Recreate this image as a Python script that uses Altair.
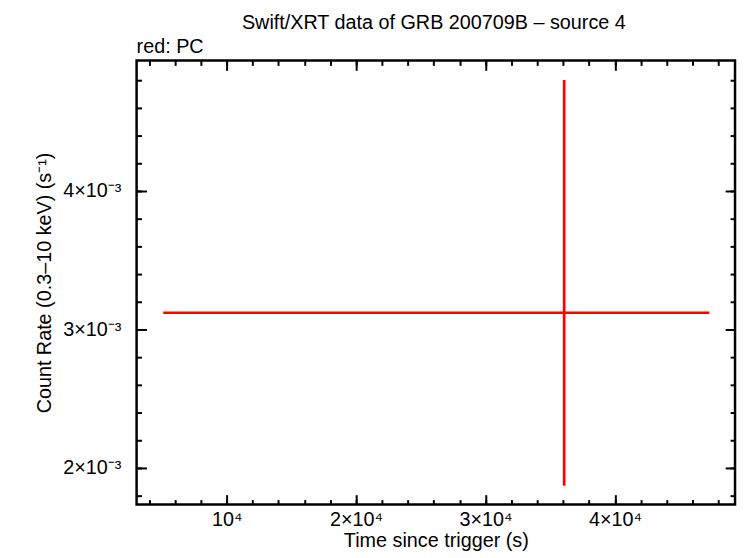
import altair as alt
import pandas as pd

# Data
t_mid = [36080.0]
t_lo = [5100.0]
t_hi = [47300.0]
rate = [0.003121]
rate_lo = [0.001871]
rate_hi = [0.004802]
label_text = ["red: PC"]
title_text = ["Swift/XRT data of GRB 200709B – source 4"]

x_major = [10000, 20000, 30000, 40000]
x_minor = [4000, 6000, 8000, 10000, 12000, 14000, 16000, 18000, 20000, 22000,
           24000, 26000, 28000, 30000, 32000, 34000, 36000, 38000, 40000, 42000,
           44000, 46000, 48000]
y_major = [0.002, 0.003, 0.004]
y_minor = [0.0018, 0.0020, 0.0022, 0.0024, 0.0026, 0.0028, 0.0030, 0.0032,
           0.0034, 0.0036, 0.0038, 0.0040, 0.0042, 0.0044, 0.0046, 0.0048]

x_domain = [3040, 49280]
y_domain = [0.001736, 0.004943]

df = pd.DataFrame({"t": t_mid, "t_lo": t_lo, "t_hi": t_hi,
                   "r": rate, "r_lo": rate_lo, "r_hi": rate_hi})
lab = pd.DataFrame({"txt": label_text})
ttl = pd.DataFrame({"txt": title_text})

FONT = "Liberation Sans"
FS = 20
RED = "#ff0000"
W, H = 605, 449
xs = alt.Scale(domain=x_domain, nice=False, zero=False)
ys = alt.Scale(domain=y_domain, nice=False, zero=False)

x_lab = "datum.value == 10000 ? '10⁴' : round(datum.value/10000) + '×10⁴'"
y_lab = "round(datum.value*1000) + '×10⁻³'"

def ax(orient, values, size, labels=False, title=None, expr=None, pad=4, **kw):
    args = dict(orient=orient, values=values, tickSize=size, offset=-size,
                labels=labels, title=title, domain=False, grid=False,
                tickColor="black", tickWidth=2, labelPadding=pad)
    if expr:
        args["labelExpr"] = expr
    args.update(kw)
    return alt.Axis(**args)

base = alt.Chart(df)

hbar = base.mark_rule(color=RED, strokeWidth=2.7).encode(
    x=alt.X("t_lo:Q", scale=xs,
            axis=ax("bottom", x_major, 10, labels=True, title="Time since trigger (s)",
                    expr=x_lab, pad=5, titlePadding=1, titleFontSize=FS,
                    titleFont=FONT, titleFontWeight="normal", titleColor="black")),
    x2="t_hi:Q",
    y=alt.Y("r:Q", scale=ys,
            axis=ax("left", y_major, 10, labels=True,
                    title="Count Rate (0.3–10 keV) (s⁻¹)",
                    expr=y_lab, pad=16, titlePadding=8, titleFontSize=FS,
                    titleFont=FONT, titleFontWeight="normal", titleColor="black")),
)

vbar = base.mark_rule(color=RED, strokeWidth=2.7).encode(
    x=alt.X("t:Q", scale=xs, axis=ax("top", x_major, 10)),
    y=alt.Y("r_lo:Q", scale=ys, axis=ax("right", y_major, 10)),
    y2="r_hi:Q",
)

minor1 = base.mark_point(opacity=0).encode(
    x=alt.X("t:Q", scale=xs, axis=ax("bottom", x_minor, 5)),
    y=alt.Y("r:Q", scale=ys, axis=ax("left", y_minor, 5)),
)
minor2 = base.mark_point(opacity=0).encode(
    x=alt.X("t:Q", scale=xs, axis=ax("top", x_minor, 5)),
    y=alt.Y("r:Q", scale=ys, axis=ax("right", y_minor, 5)),
)

note = alt.Chart(lab).mark_text(
    align="left", baseline="alphabetic", font=FONT, fontSize=FS, color="black"
).encode(x=alt.value(0), y=alt.value(-8), text="txt:N")

head = alt.Chart(ttl).mark_text(
    align="center", baseline="alphabetic", font=FONT, fontSize=FS, color="black"
).encode(x=alt.value(W / 2 - 2), y=alt.value(-32), text="txt:N")

chart = alt.layer(hbar, vbar, minor1, minor2, note, head).resolve_axis(
    x="independent", y="independent"
).properties(
    width=W, height=H,
    autosize=alt.AutoSizeParams(type="none"),
    padding={"left": 130, "top": 50, "right": 3, "bottom": 47},
).configure_view(stroke="black", strokeWidth=2.5).configure_axis(
    labelFont=FONT, labelFontSize=FS, labelColor="black"
)

chart.save("out.html", embed_options={"renderer": "svg", "actions": False})
